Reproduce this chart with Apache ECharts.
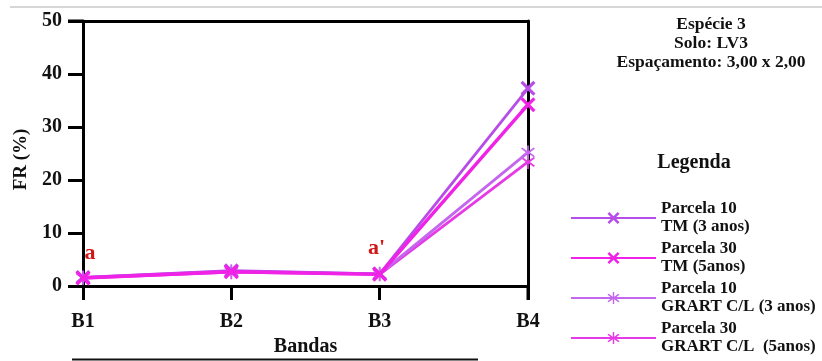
<!DOCTYPE html>
<html>
<head>
    <meta charset="utf-8">
    <script src="https://cdn.jsdelivr.net/npm/echarts@6/dist/echarts.min.js"></script>
    <style>
        html, body { margin: 0; padding: 0; background: #fff; }
        #main { width: 822px; height: 361px; }
    </style>
</head>
<body>
    <div id="main"></div>
    <script type="text/javascript">
        // dados
        var bandas = ['B1', 'B2', 'B3', 'B4'];
        var yTicks = [0, 10, 20, 30, 40, 50];
        var nomes = ['Parcela 10\nTM (3 anos)', 'Parcela 30\nTM (5anos)',
                     'Parcela 10\nGRART C/L (3 anos)', 'Parcela 30\nGRART C/L  (5anos)'];
        var p10TM = [1.6, 2.9, 2.3, 37.3];
        var p30TM = [1.5, 2.7, 2.2, 34.2];
        var p10GR = [1.6, 2.8, 2.3, 25.2];
        var p30GR = [1.5, 2.6, 2.2, 23.4];
        var cores = ['#b84ce8', '#f022e6', '#c466ee', '#e63ae6'];

        var fonte = 'Liberation Serif';
        var xis = 'path://M0,3 L3,0 L10,7 L17,0 L20,3 L13,10 L20,17 L17,20 L10,13 L3,20 L0,17 L7,10 Z';
        var asterisco = 'path://M9,0 L11,0 L11,8 L17,3 L18.5,4.5 L12.5,10 L18.5,15.5 L17,17 L11,12 L11,20 L9,20 L9,12 L3,17 L1.5,15.5 L7.5,10 L1.5,4.5 L3,3 L9,8 Z';

        var myChart = echarts.init(document.getElementById('main'));

        function serie(i, data, simbolo, tam) {
            return {
                name: nomes[i],
                type: 'line',
                data: data,
                symbol: simbolo,
                symbolSize: tam,
                showAllSymbol: true,
                z: 10 - i,
                lineStyle: { color: cores[i], width: 2.8 },
                itemStyle: { color: cores[i] }
            };
        }

        var series = [
            serie(0, p10TM, xis, 15),
            serie(1, p30TM, xis, 15),
            serie(2, p10GR, asterisco, 14),
            serie(3, p30GR, asterisco, 14)
        ];
        series[1].z = 12;
        series[1].lineStyle.width = 3.4;
        series[0].markPoint = {
            symbol: 'circle',
            symbolSize: 1,
            itemStyle: { color: 'rgba(0,0,0,0)' },
            label: { show: true, position: 'inside', color: '#d01818', fontFamily: fonte, fontWeight: 'bold', fontSize: 22 },
            data: [
                { name: 'a', coord: ['B1', 6.2], value: 1, label: { formatter: 'a', offset: [7, 0] } },
                { name: 'a2', coord: ['B3', 7.2], value: 2, label: { formatter: "a'", offset: [-3, 0] } }
            ]
        };

        var rotulo = { fontFamily: fonte, fontWeight: 'bold', fontSize: 20, color: '#111' };

        myChart.setOption({
            animation: false,
            grid: { left: 83, right: 294, top: 21, bottom: 75, outerBoundsMode: 'none' },
            legend: {
                data: nomes,
                orient: 'vertical',
                left: 565,
                top: 195,
                itemWidth: 85,
                itemHeight: 15,
                itemGap: 4,
                textStyle: { fontFamily: fonte, fontWeight: 'bold', fontSize: 17, color: '#111', lineHeight: 18 }
            },
            xAxis: [{
                type: 'category',
                data: bandas,
                boundaryGap: false,
                name: 'Bandas',
                nameLocation: 'middle',
                nameGap: 49,
                nameTextStyle: { fontFamily: fonte, fontWeight: 'bold', fontSize: 20, color: '#111' },
                axisLine: { onZero: false, lineStyle: { color: '#000', width: 3 } },
                axisTick: { show: true, length: 14, lineStyle: { color: '#000', width: 3 } },
                axisLabel: Object.assign({ margin: 26 }, rotulo)
            }, {
                type: 'category',
                data: bandas,
                boundaryGap: false,
                position: 'top',
                axisLine: { onZero: false, lineStyle: { color: '#000', width: 3 } },
                axisTick: { show: false },
                axisLabel: { show: false }
            }],
            yAxis: [{
                type: 'value',
                min: 0,
                max: 50,
                interval: 10,
                name: 'FR (%)',
                nameLocation: 'middle',
                nameGap: 52,
                nameRotate: 90,
                nameTextStyle: { fontFamily: fonte, fontWeight: 'bold', fontSize: 19, color: '#111', padding: [0, 12, 0, 0] },
                splitLine: { show: false },
                axisLine: { show: true, onZero: false, lineStyle: { color: '#000', width: 3 } },
                axisTick: { show: true, length: 15, lineStyle: { color: '#000', width: 3 } },
                axisLabel: Object.assign({ margin: 21 }, rotulo)
            }, {
                type: 'value',
                min: 0,
                max: 50,
                interval: 10,
                position: 'right',
                splitLine: { show: false },
                axisLine: { show: true, onZero: false, lineStyle: { color: '#000', width: 3 } },
                axisTick: { show: false },
                axisLabel: { show: false }
            }],
            graphic: [
                { type: 'line', shape: { x1: 10, y1: 7, x2: 822, y2: 7 }, style: { stroke: '#c8c8c8', lineWidth: 1.5 } },
                { type: 'line', shape: { x1: 68, y1: 21, x2: 83, y2: 21 }, style: { stroke: '#000', lineWidth: 3 } },
                { type: 'line', shape: { x1: 528, y1: 286, x2: 528, y2: 300 }, style: { stroke: '#000', lineWidth: 3 } },
                { type: 'line', shape: { x1: 72, y1: 359.5, x2: 478, y2: 359.5 }, style: { stroke: '#111', lineWidth: 2 } },
                {
                    type: 'text', x: 711, y: 15,
                    style: {
                        text: 'Espécie 3\nSolo: LV3\nEspaçamento: 3,00 x 2,00',
                        align: 'center',
                        font: 'bold 17.5px "Liberation Serif"', lineHeight: 19, fill: '#111'
                    }
                },
                {
                    type: 'text', x: 694, y: 153,
                    style: { text: 'Legenda', align: 'center', font: 'bold 20px "Liberation Serif"', fill: '#111' }
                }
            ],
            series: series
        });
    </script>
</body>
</html>
